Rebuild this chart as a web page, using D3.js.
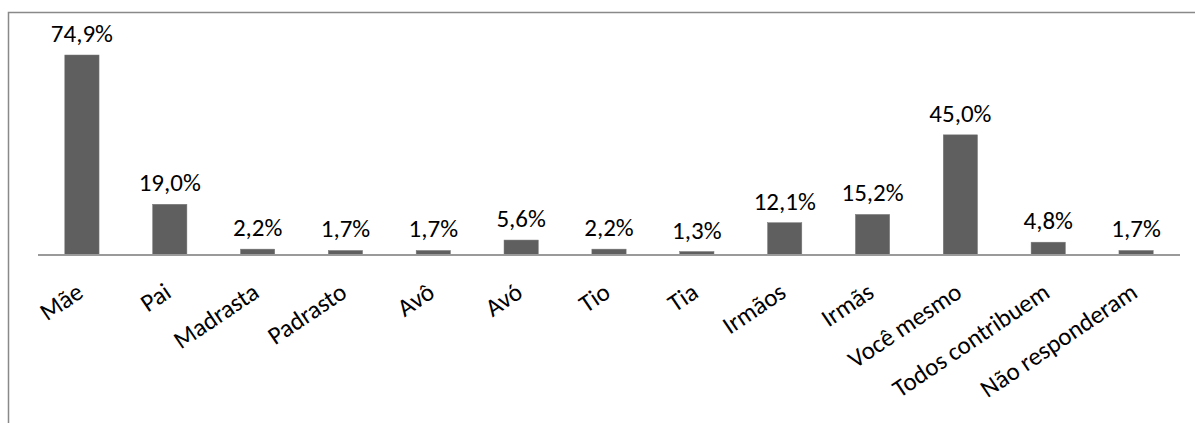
<!DOCTYPE html>
<html>
<head>
<meta charset="utf-8">
<script src="https://cdn.jsdelivr.net/npm/d3@7"></script>
<style>
  html, body { margin: 0; padding: 0; background: #fff; }
  svg { display: block; }
  text { font-family: Carlito, Lato, "Open Sans", sans-serif; fill: #000; }
</style>
</head>
<body>
<svg id="chart" width="1195" height="423"></svg>
<script>
// Categories and percentages
const categories = ["Mãe", "Pai", "Madrasta", "Padrasto", "Avô", "Avó", "Tio", "Tia",
  "Irmãos", "Irmãs", "Você mesmo", "Todos contribuem", "Não responderam"];
const values = [74.9, 19.0, 2.2, 1.7, 1.7, 5.6, 2.2, 1.3, 12.1, 15.2, 45.0, 4.8, 1.7];

const svg = d3.select("#chart");
const W = 1195, H = 423;

// Outer frame (open to the right and bottom edges)
svg.append("rect")
  .attr("x", 8.5).attr("y", 12.5)
  .attr("width", W + 10).attr("height", H + 10)
  .attr("fill", "none").attr("stroke", "#898989").attr("stroke-width", 1.5);

const plot = { left: 38, right: 1180, top: 55, bottom: 255 };

const x = d3.scaleBand()
  .domain(categories)
  .range([plot.left, plot.right])
  .paddingInner(0.61)
  .paddingOuter(0.305);

const y = d3.scaleLinear()
  .domain([0, 74.9])
  .range([plot.bottom, plot.top]);

const fmt = v => v.toFixed(1).replace(".", ",") + "%";

// Bars
svg.append("g").selectAll("rect")
  .data(values)
  .join("rect")
  .attr("x", (d, i) => x(categories[i]))
  .attr("y", d => y(d))
  .attr("width", x.bandwidth())
  .attr("height", d => y(0) - y(d))
  .attr("fill", "#5f5f5f")
  .attr("stroke", "#7a7a7a")
  .attr("stroke-width", 0.5);

// Value labels
svg.append("g").selectAll("text")
  .data(values)
  .join("text")
  .attr("x", (d, i) => x(categories[i]) + x.bandwidth() / 2)
  .attr("y", d => y(d) - 13)
  .attr("text-anchor", "middle")
  .attr("font-size", 25)
  .text(d => fmt(d));

// Category axis
const xAxis = d3.axisBottom(x).tickSize(0).tickPadding(0);
const gx = svg.append("g")
  .attr("transform", `translate(0,${plot.bottom})`)
  .call(xAxis);
gx.select(".domain")
  .attr("stroke", "#9a9a9a")
  .attr("stroke-width", 2)
  .attr("d", `M${plot.left},0H${plot.right}`);
gx.selectAll(".tick text")
  .attr("font-size", 25)
  .attr("font-family", 'Carlito, Lato, "Open Sans", sans-serif')
  .attr("fill", "#000")
  .attr("text-anchor", "end")
  .attr("x", 0).attr("y", 0).attr("dy", 0)
  .attr("transform", "translate(3,41) rotate(-34)");
</script>
</body>
</html>
